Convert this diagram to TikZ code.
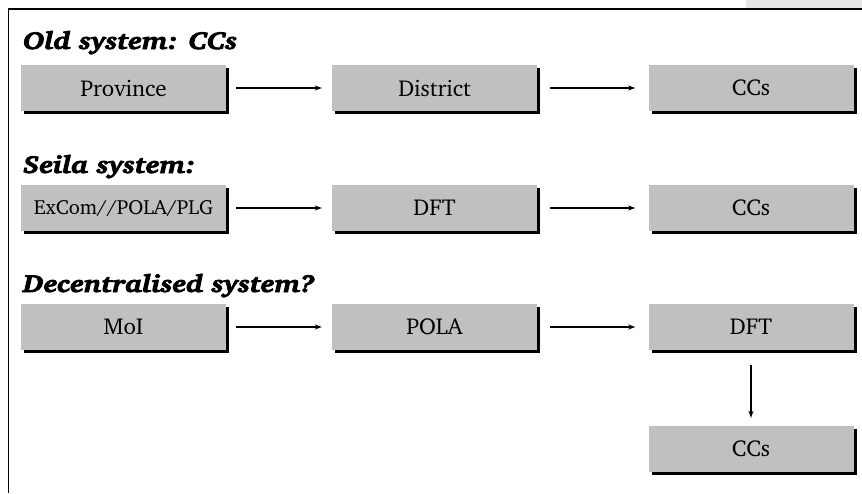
\documentclass[tikz,border=0pt]{standalone}
\usepackage[T1]{fontenc}
\usepackage{charter}
\usepackage{graphicx}
\usetikzlibrary{arrows.meta,shadows}
\definecolor{boxgray}{HTML}{C0C0C0}
\definecolor{tabgray}{HTML}{E6E6E6}
\newcommand{\heavytext}[1]{\scalebox{1.2}[1]{\special{pdf:literal direct 2 Tr 0.8 w}#1\special{pdf:literal direct 0 Tr}}}
\tikzset{
  unit/.style={draw=none, fill=boxgray, minimum width=205pt, minimum height=46pt,
    inner sep=0pt, font=\fontsize{23}{25}\selectfont,
    drop shadow={fill=black, opacity=1, shadow xshift=3pt, shadow yshift=-3pt}},
  heading/.style={anchor=base west, inner sep=0pt, font=\fontsize{24.5}{30}\selectfont\bfseries\itshape},
  flow/.style={line width=1.4pt, -{Stealth[length=7pt,width=5pt]}},
  frameline/.style={line width=1pt, draw=black}
}
\begin{document}
\begin{tikzpicture}[x=1pt,y=-1pt]
\useasboundingbox (0,0) rectangle (862,493);
\fill[tabgray] (746,0) rectangle (862,8.5);
\draw[frameline, line width=1.6pt] (8,9) -- (862,9);
\draw[frameline] (8,9) -- (8,493);

\node[heading] (h1) at (23,49) {\heavytext{Old system: CCs}};
\node[heading] (h2) at (23,173) {\heavytext{Seila system:}};
\node[heading] (h3) at (23,292) {\heavytext{Decentralised system?}};

\node[unit] (p1) at (123.5,88) {Province};
\node[unit] (p2) at (434.5,88) {District};
\node[unit] (p3) at (751,88) {CCs};

\node[unit] (s1) at (123.5,208) {\fontsize{20.5}{24}\selectfont ExCom//POLA/PLG};
\node[unit] (s2) at (434.5,208) {DFT};
\node[unit] (s3) at (751,208) {CCs};

\node[unit] (d1) at (123.5,327) {MoI};
\node[unit] (d2) at (434.5,327) {POLA};
\node[unit] (d3) at (751,327) {DFT};
\node[unit] (d4) at (751,449) {CCs};

\draw[flow, shorten <=10pt, shorten >=10pt] (p1) -- (p2);
\draw[flow, shorten <=13pt, shorten >=13pt] (p2) -- (p3);
\draw[flow, shorten <=10pt, shorten >=10pt] (s1) -- (s2);
\draw[flow, shorten <=13pt, shorten >=13pt] (s2) -- (s3);
\draw[flow, shorten <=10pt, shorten >=10pt] (d1) -- (d2);
\draw[flow, shorten <=13pt, shorten >=13pt] (d2) -- (d3);
\draw[flow, shorten <=15pt, shorten >=8pt] (d3) -- (d4);
\end{tikzpicture}
\end{document}
